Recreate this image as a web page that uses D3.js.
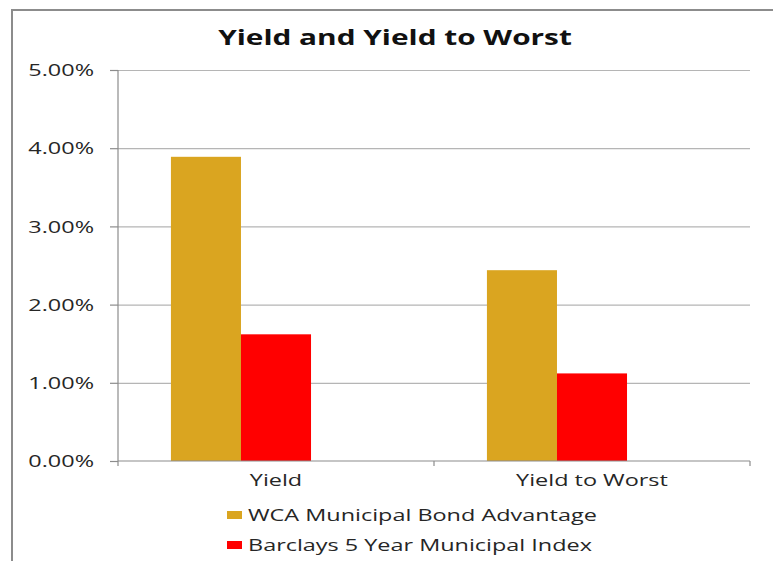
<!DOCTYPE html>
<html>
<head>
<meta charset="utf-8">
<script src="https://cdn.jsdelivr.net/npm/d3@7"></script>
<style>
  body { margin: 0; background: #fff; }
  text { font-family: "Open Sans", sans-serif; fill: #262626; }
</style>
</head>
<body>
<div id="root"></div>
<script>
const categories = ["Yield", "Yield to Worst"];
const seriesNames = ["WCA Municipal Bond Advantage", "Barclays 5 Year Municipal Index"];
const wcaValues = [3.89, 2.44];
const barclaysValues = [1.62, 1.12];
const yTicks = [0, 1, 2, 3, 4, 5];
const COLORS = ["#DAA520", "#FF0000"];

const width = 773;
const height = 561;
const sx = 1.42; // the reference text is stretched sideways

const svg = d3.select("#root")
  .append("svg")
    .attr("width", width)
    .attr("height", height);

svg.append("rect").attr("width", width).attr("height", height).attr("fill", "#fff");

// chart frame (only top and left edges are visible)
svg.append("path")
  .attr("d", `M12,${height} V10 H${width}`)
  .attr("fill", "none")
  .attr("stroke", "#8c8c8c")
  .attr("stroke-width", 2);

const plot = { left: 118, right: 750, top: 70, bottom: 461 };

const y = d3.scaleLinear().domain([0, 5]).range([plot.bottom, plot.top]);

const x0 = d3.scaleBand()
  .domain(categories)
  .range([plot.left, plot.right])
  .paddingInner(0.335)
  .paddingOuter(0.1675);

// three slots per category, the third one is empty in the source chart
const x1 = d3.scaleBand()
  .domain([0, 1, 2])
  .range([0, x0.bandwidth()]);

function stretch(sel, dx, dy) {
  sel.attr("x", 0).attr("y", 0)
    .attr("transform", `translate(${dx},${dy}) scale(${sx},1)`);
}

// title
svg.append("text")
  .attr("text-anchor", "middle")
  .style("font-size", "21px")
  .style("font-weight", "bold")
  .style("fill", "#111")
  .text("Yield and Yield to Worst")
  .call(stretch, 395, 45);

// gridlines
svg.append("g")
  .attr("transform", `translate(${plot.left},0)`)
  .call(d3.axisLeft(y).tickValues(yTicks.slice(1)).tickSize(-(plot.right - plot.left)).tickFormat(""))
  .call(g => g.select(".domain").remove())
  .call(g => g.selectAll("line").attr("stroke", "#b5b5b5").attr("stroke-width", 1.2));

// bars
const series = [wcaValues, barclaysValues];
const barGroup = svg.append("g");
categories.forEach((c, i) => {
  barGroup.append("g")
    .attr("transform", `translate(${x0(c)},0)`)
    .selectAll("rect")
    .data(series.map((s, j) => ({ j, v: s[i] })))
    .enter()
    .append("rect")
      .attr("x", d => x1(d.j))
      .attr("y", d => y(d.v))
      .attr("width", x1.bandwidth())
      .attr("height", d => y(0) - y(d.v))
      .attr("fill", d => COLORS[d.j]);
});

// y axis
const yAxis = svg.append("g")
  .attr("transform", `translate(${plot.left},0)`)
  .call(d3.axisLeft(y).tickValues(yTicks).tickSize(8).tickFormat(d => d.toFixed(2) + "%"));
yAxis.select(".domain").attr("stroke", "#8c8c8c").attr("stroke-width", 1.2)
  .attr("d", `M0,${plot.top}V${plot.bottom + 5}`);
yAxis.selectAll("line").attr("stroke", "#8c8c8c").attr("stroke-width", 1.2);
yAxis.selectAll("text")
  .style("font-size", "16.5px")
  .attr("dy", "0.35em")
  .each(function () { d3.select(this).call(stretch, -24, 0); });

// x axis
const xAxis = svg.append("g")
  .attr("transform", `translate(0,${plot.bottom})`);
xAxis.append("line")
  .attr("x1", plot.left).attr("x2", plot.right)
  .attr("stroke", "#8c8c8c").attr("stroke-width", 1.2);
xAxis.selectAll(".tick")
  .data(categories)
  .enter()
  .append("line")
    .attr("x1", d => x0(d) + x0.bandwidth() / 2 + x0.step() / 2)
    .attr("x2", d => x0(d) + x0.bandwidth() / 2 + x0.step() / 2)
    .attr("y2", 5)
    .attr("stroke", "#8c8c8c").attr("stroke-width", 1.2);
xAxis.selectAll(".cat")
  .data(categories)
  .enter()
  .append("text")
    .attr("text-anchor", "middle")
    .style("font-size", "16.5px")
    .text(d => d)
    .each(function (d) { d3.select(this).call(stretch, x0(d) + x0.bandwidth() / 2, 25); });

// legend
const legend = svg.append("g").attr("transform", "translate(227,515)");
seriesNames.forEach((name, i) => {
  const row = legend.append("g").attr("transform", `translate(0,${i * 30})`);
  row.append("rect")
    .attr("y", -4).attr("width", 15).attr("height", 8)
    .attr("fill", COLORS[i]);
  row.append("text")
    .style("font-size", "16.5px")
    .attr("dy", "0.35em")
    .text(name)
    .call(stretch, 21, 0);
});
</script>
</body>
</html>
